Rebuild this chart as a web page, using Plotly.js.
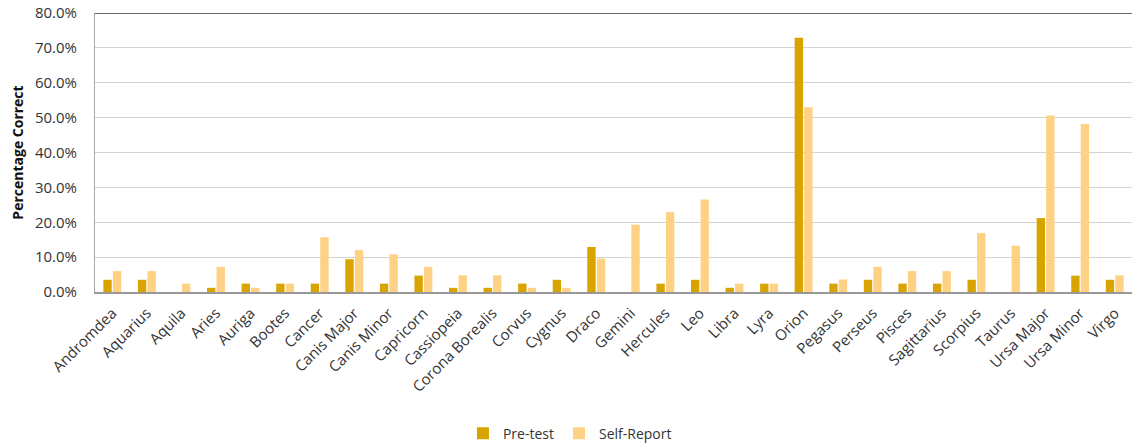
<!DOCTYPE html>
<html>
<head>
<meta charset="utf-8">
<script src="https://cdn.plot.ly/plotly-3.0.1.min.js"></script>
<style>html,body{margin:0;padding:0;background:#fff}#chart{width:1135px;height:447px}</style>
</head>
<body>
<div id="chart"></div>
<script>
const constellations = ["Andromdea","Aquarius","Aquila","Aries","Auriga","Bootes","Cancer","Canis Major","Canis Minor","Capricorn","Cassiopeia","Corona Borealis","Corvus","Cygnus","Draco","Gemini","Hercules","Leo","Libra","Lyra","Orion","Pegasus","Perseus","Pisces","Sagittarius","Scorpius","Taurus","Ursa Major","Ursa Minor","Virgo"];
const preTest = [3.5,3.5,0,1.2,2.4,2.4,2.4,9.4,2.4,4.7,1.2,1.2,2.4,3.5,12.9,0,2.4,3.5,1.2,2.4,72.9,2.4,3.5,2.4,2.4,3.5,0,21.2,4.7,3.5];
const selfReport = [6.0,6.0,2.4,7.2,1.2,2.4,15.7,12.0,10.8,7.2,4.8,4.8,1.2,1.2,9.6,19.3,22.9,26.5,2.4,2.4,53.0,3.6,7.2,6.0,6.0,16.9,13.3,50.6,48.2,4.8];
const yTicks = [0,10,20,30,40,50,60,70,80];

const font = "'Open Sans', 'Liberation Sans', sans-serif";
const traces = [
  {type:'bar', name:'Pre-test', x:constellations, y:preTest, marker:{color:'#D9A400'}},
  {type:'bar', name:'Self-Report', x:constellations, y:selfReport, marker:{color:'#FFD184'}}
];
const layout = {
  width:1135, height:447,
  margin:{l:95, r:3, t:13, b:155, autoexpand:false},
  paper_bgcolor:'#fff', plot_bgcolor:'#fff',
  barmode:'group', bargap:0.45, bargroupgap:0.12,
  font:{family:font, size:14, color:'#333'},
  showlegend:true,
  legend:{orientation:'h', xref:'paper', x:0.458, xanchor:'center', y:-0.45, yanchor:'top', font:{size:14, color:'#333'}, itemwidth:30, traceorder:'normal'},
  xaxis:{tickangle:-45, tickfont:{size:15, color:'#333'}, showline:true, linecolor:'#999', linewidth:1.5, ticks:'', showgrid:false, ticklabelstandoff:5, automargin:false},
  yaxis:{range:[0,80], tickvals:yTicks, ticktext:yTicks.map(v=>v.toFixed(1)+'%'), tickfont:{size:15, color:'#333'}, gridcolor:'#d4d4d4', gridwidth:1.2, zeroline:false, showline:true, linecolor:'#aaa', linewidth:1, ticks:'', ticklen:0, ticklabelstandoff:14, automargin:false,
    title:{text:'<b>Percentage Correct</b>', font:{size:14, color:'#111'}, standoff:8}},
  shapes:[{type:'line', xref:'paper', yref:'y', x0:0, x1:1, y0:80, y1:80, line:{color:'#333', width:1.5}}]
};
Plotly.newPlot('chart', traces, layout, {displayModeBar:false, staticPlot:true});
</script>
</body>
</html>
